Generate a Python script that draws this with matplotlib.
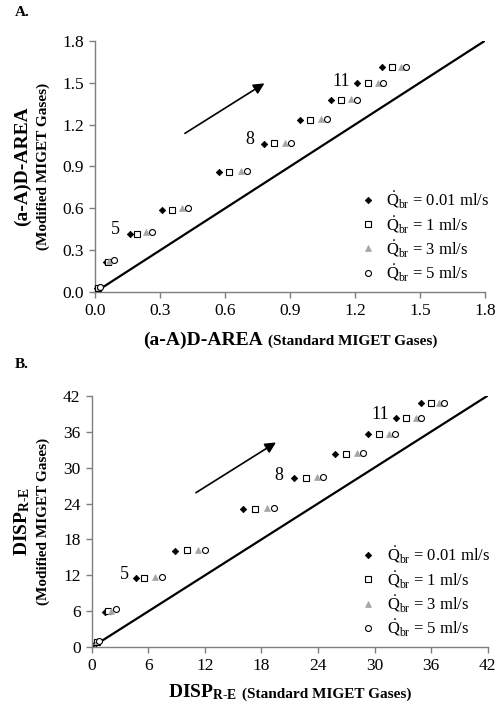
import matplotlib
matplotlib.use("Agg")
import matplotlib.pyplot as plt
import numpy as np
from matplotlib.offsetbox import TextArea, HPacker, AnnotationBbox

plt.rcParams["font.family"] = ["Liberation Serif", "DejaVu Serif"]
plt.rcParams["mathtext.fontset"] = "custom"
plt.rcParams["mathtext.rm"] = "Liberation Serif"
plt.rcParams["mathtext.it"] = "Liberation Serif:italic"
plt.rcParams["mathtext.bf"] = "Liberation Serif:bold"

# flow rates in the legend
flow_labels = ["0.01", "1", "3", "5"]

# panel A: (a-A)D-AREA, standard (x) vs modified (y)
a_x_001 = [0.01, 0.049, 0.160, 0.311, 0.572, 0.778, 0.946, 1.088, 1.209, 1.323]
a_y_001 = [0.03, 0.215, 0.420, 0.590, 0.858, 1.064, 1.235, 1.378, 1.500, 1.615]
a_x_1 = [0.015, 0.060, 0.194, 0.355, 0.618, 0.826, 0.994, 1.134, 1.258, 1.371]
a_y_1 = [0.03, 0.220, 0.420, 0.590, 0.860, 1.066, 1.235, 1.378, 1.500, 1.615]
a_x_3 = [0.018, 0.066, 0.235, 0.400, 0.672, 0.875, 1.042, 1.180, 1.305, 1.413]
a_y_3 = [0.035, 0.225, 0.430, 0.600, 0.865, 1.068, 1.237, 1.380, 1.500, 1.615]
a_x_5 = [0.022, 0.088, 0.263, 0.431, 0.702, 0.905, 1.071, 1.208, 1.328, 1.434]
a_y_5 = [0.04, 0.229, 0.430, 0.600, 0.868, 1.068, 1.237, 1.378, 1.500, 1.612]

# panel B: DISP R-E
b_x_001 = [0.45, 1.45, 4.70, 8.87, 16.08, 21.49, 25.84, 29.34, 32.31, 34.96]
b_y_001 = [0.8, 5.95, 11.57, 16.13, 23.14, 28.31, 32.31, 35.54, 38.27, 40.71]
b_x_1 = [0.55, 1.77, 5.58, 10.07, 17.29, 22.69, 26.97, 30.44, 33.37, 35.98]
b_y_1 = [0.9, 6.0, 11.6, 16.2, 23.14, 28.31, 32.31, 35.54, 38.27, 40.71]
b_x_3 = [0.6, 2.1, 6.72, 11.28, 18.56, 23.93, 28.14, 31.50, 34.43, 36.87]
b_y_3 = [1.0, 6.1, 11.8, 16.3, 23.3, 28.4, 32.4, 35.6, 38.3, 40.75]
b_x_5 = [0.75, 2.58, 7.42, 12.05, 19.34, 24.57, 28.77, 32.13, 34.92, 37.36]
b_y_5 = [1.1, 6.34, 11.8, 16.3, 23.3, 28.4, 32.4, 35.6, 38.3, 40.75]

# labelled points (numbers) and arrows
a_num_labels = [("5", 0.095, 0.446), ("8", 0.715, 1.09), ("11", 1.138, 1.51)]
b_num_labels = [("5", 3.43, 12.18), ("8", 19.8, 28.6), ("11", 30.6, 38.8)]
a_arrow = ((0.415, 1.137), (0.782, 1.495))
b_arrow = ((11.06, 25.81), (19.55, 34.2))

styles = [
    dict(marker="D", ms=3.3, mfc="black", mec="black", mew=0.5),
    dict(marker="s", ms=4.0, mfc="white", mec="black", mew=0.8),
    dict(marker="^", ms=4.2, mfc="#a6a6a6", mec="#a6a6a6", mew=0.5),
    dict(marker="o", ms=4.3, mfc="white", mec="black", mew=0.8),
]

fig = plt.figure(figsize=(5.0, 7.07), dpi=100)
axA = fig.add_axes([0.19, 0.5866, 0.78, 0.3558])
axB = fig.add_axes([0.1833, 0.0844, 0.792, 0.3559])


def setup(ax, lim, step, fmt):
    ax.set_xlim(0, lim)
    ax.set_ylim(0, lim)
    ticks = np.arange(0, lim + step / 2, step)
    ax.set_xticks(ticks)
    ax.set_yticks(ticks)
    ax.set_xticklabels([fmt % t for t in ticks])
    ax.set_yticklabels([fmt % t for t in ticks])
    for s in ["top", "right"]:
        ax.spines[s].set_visible(False)
    for s in ["left", "bottom"]:
        ax.spines[s].set_color("#7f7f7f")
        ax.spines[s].set_linewidth(1.0)
    ax.tick_params(direction="out", length=4, width=1.0, color="#7f7f7f",
                   labelsize=12.5, pad=4)
    ax.plot([0, lim], [0, lim], color="black", lw=1.6, zorder=2)


def draw(ax, xs, ys, nums, arrow):
    for i, (x, y) in enumerate(zip(xs, ys)):
        lab = r"$\dot{\mathrm{Q}}_{\mathrm{br}}$ = %s ml/s" % flow_labels[i]
        ax.plot(x, y, ls="none", label=lab, clip_on=False, zorder=3, **styles[i])
    for t, x, y in nums:
        ax.text(x, y, t, fontsize=13, ha="center", va="center")
    ax.annotate("", xy=arrow[1], xytext=arrow[0],
                arrowprops=dict(arrowstyle="-|>", color="black", lw=1.2,
                                mutation_scale=16, shrinkA=0, shrinkB=0))
    ax.legend(loc="lower left", bbox_to_anchor=(0.665, 0.01), frameon=False,
              fontsize=12, handlelength=0.8, handletextpad=0.7,
              labelspacing=0.2, borderaxespad=0)


setup(axA, 1.8, 0.3, "%.1f")
draw(axA, [a_x_001, a_x_1, a_x_3, a_x_5], [a_y_001, a_y_1, a_y_3, a_y_5],
     a_num_labels, a_arrow)
setup(axB, 42, 6, "%d")
draw(axB, [b_x_001, b_x_1, b_x_3, b_x_5], [b_y_001, b_y_1, b_y_3, b_y_5],
     b_num_labels, b_arrow)

# y labels (two lines, different sizes)
axA.text(-0.187, 0.5, "(a-A)D-AREA", transform=axA.transAxes, rotation=90,
         ha="center", va="center", fontsize=14, fontweight="bold")
axA.text(-0.133, 0.5, "(Modified MIGET Gases)", transform=axA.transAxes,
         rotation=90, ha="center", va="center", fontsize=11, fontweight="bold")
axB.text(-0.175, 0.5, r"DISP$_{\mathbf{R}\mathbf{‐}\mathbf{E}}$", transform=axB.transAxes,
         rotation=90, ha="center", va="center", fontsize=14, fontweight="bold")
axB.text(-0.122, 0.5, "(Modified MIGET Gases)", transform=axB.transAxes,
         rotation=90, ha="center", va="center", fontsize=11, fontweight="bold")


# x labels: big part + smaller part on one baseline
def xlabel(ax, big, small, y):
    t1 = TextArea(big, textprops=dict(fontsize=14, fontweight="bold"))
    t2 = TextArea(small, textprops=dict(fontsize=11, fontweight="bold"))
    box = HPacker(children=[t1, t2], align="baseline", pad=0, sep=4)
    ab = AnnotationBbox(box, (0.5, y), xycoords="axes fraction", frameon=False,
                        box_alignment=(0.5, 0.5), pad=0)
    ax.add_artist(ab)


xlabel(axA, "(a-A)D-AREA", "(Standard MIGET Gases)", -0.19)
xlabel(axB, r"DISP$_{\mathbf{R}\mathbf{‐}\mathbf{E}}$", "(Standard MIGET Gases)", -0.18)

fig.text(0.03, 0.983, "A.", fontsize=11, fontweight="bold", va="center")
fig.text(0.03, 0.484, "B.", fontsize=11, fontweight="bold", va="center")

fig.savefig("out.png", dpi=100)
